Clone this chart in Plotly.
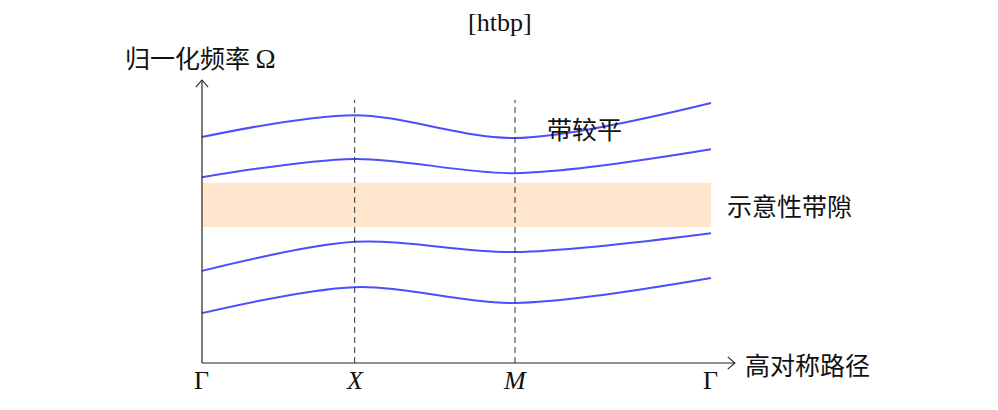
import plotly.graph_objects as go

# high-symmetry path positions (Γ - X - M - Γ)
k_pos = [0, 3.0, 6.15, 10.0]
k_labels = ["Γ", "<i>X</i>", "<i>M</i>", "Γ"]

# schematic band frequencies at each k point
band_1 = [0.98, 1.49, 1.18, 1.67]
band_2 = [1.81, 2.38, 2.18, 2.55]
band_3 = [3.65, 4.01, 3.73, 4.20]
band_4 = [4.44, 4.87, 4.42, 5.11]
bands = [band_1, band_2, band_3, band_4]

gap_low, gap_high = 2.67, 3.54

SERIF = "Liberation Serif"
CJK = "Noto Sans CJK SC"
BLUE = "rgb(77,77,255)"

fig = go.Figure()

fig.add_shape(type="rect", x0=k_pos[0], x1=k_pos[-1], y0=gap_low, y1=gap_high,
              fillcolor="#ffe6cc", line_width=0, layer="below")

for b in bands:
    fig.add_trace(go.Scatter(x=k_pos, y=b, mode="lines",
                             line=dict(color=BLUE, width=2, shape="spline", smoothing=0.9),
                             hoverinfo="skip", showlegend=False))

# dashed lines at X and M
for xv in k_pos[1:3]:
    fig.add_shape(type="line", x0=xv, x1=xv, y0=0, y1=5.17,
                  line=dict(color="#333", width=1, dash="6px,4px"))

# axes with open arrow tips
fig.add_shape(type="line", x0=0, x1=10.47, y0=0, y1=0, line=dict(color="#222", width=1.2))
fig.add_shape(type="line", x0=0, x1=0, y0=0, y1=5.56, line=dict(color="#222", width=1.2))
fig.add_shape(type="path", path="M 10.33,0.12 L 10.47,0 L 10.33,-0.12",
              line=dict(color="#222", width=1.1))
fig.add_shape(type="path", path="M -0.12,5.42 L 0,5.56 L 0.12,5.42",
              line=dict(color="#222", width=1.1))

for xv, lab in zip(k_pos, k_labels):
    fig.add_annotation(x=xv, y=-0.35, text=lab, showarrow=False, yanchor="middle",
                       font=dict(family=SERIF, size=26, color="#111"))

fig.add_annotation(x=10.62, y=-0.02, text="高对称路径", showarrow=False, xanchor="left",
                   font=dict(family=CJK, size=25, color="#111"))
fig.add_annotation(x=-0.02, y=6.01,
                   text="归一化频率 <span style='font-family:Liberation Serif;font-size:27px'>Ω</span>",
                   showarrow=False, yanchor="middle",
                   font=dict(family=CJK, size=25, color="#111"))
fig.add_annotation(x=10.28, y=(gap_low + gap_high) / 2, text="示意性带隙", showarrow=False,
                   xanchor="left", font=dict(family=CJK, size=25, color="#111"))
fig.add_annotation(x=7.52, y=4.62, text="带较平", showarrow=False,
                   font=dict(family=CJK, size=25, color="#111"))

fig.add_annotation(x=5.85, y=6.70, text="[htbp]", showarrow=False,
                   font=dict(family=SERIF, size=26, color="#111"))

# page body adds an 8px offset; ranges are set so the plot lands where the reference does
fig.update_layout(
    width=998, height=410,
    margin=dict(l=0, r=0, t=0, b=0),
    paper_bgcolor="white", plot_bgcolor="white",
    xaxis=dict(range=[-3.811, 15.796], visible=False),
    yaxis=dict(range=[-1.081, 6.975], visible=False),
)

fig.write_html("out.html")
